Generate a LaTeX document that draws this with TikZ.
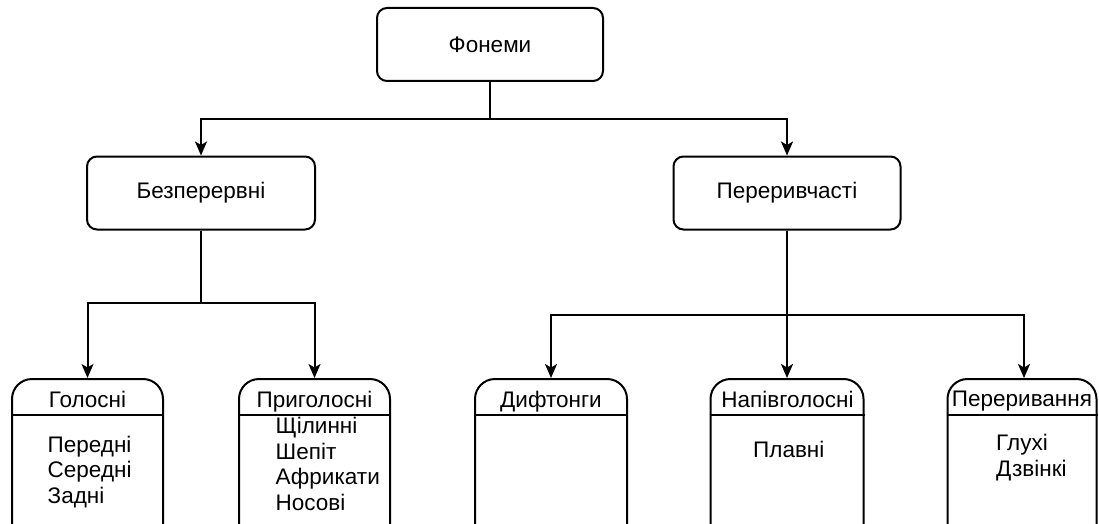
\documentclass[tikz,border=0pt]{standalone}
\usepackage{fontspec}
\setmainfont{Liberation Sans}
\usetikzlibrary{arrows.meta,calc}
\begin{document}
\begin{tikzpicture}[x=1pt,y=-1pt,
  every node/.style={font=\fontsize{22.5}{25.5}\selectfont, inner sep=0pt},
  topbox/.style={draw, line width=2pt, rounded corners=10pt, minimum height=73pt},
  lane/.style={draw, line width=2pt, rounded corners=20pt, minimum height=190pt, anchor=north},
  sep/.style={line width=2pt},
  link/.style={line width=2pt, -{Stealth[length=14pt,width=12pt,inset=3.5pt]}},
  body/.style={align=left, anchor=base west}
]
\useasboundingbox (0,0) rectangle (1099,524);
\clip (0,0) rectangle (1099,524);
\fill[white] (0,0) rectangle (1099,524);

% upper levels
\node[topbox, minimum width=226pt] (fon) at (490,44.5) {Фонеми};
\node[topbox, minimum width=228pt] (bez) at (201,193) {Безперервні};
\node[topbox, minimum width=227pt] (per) at (787,193) {Переривчасті};

% lower swimlanes
\node[lane, minimum width=151pt] (gol) at (87.5,378) {};
\node[lane, minimum width=151pt] (pry) at (314.5,378) {};
\node[lane, minimum width=152pt] (dyf) at (551,378) {};
\node[lane, minimum width=153pt] (nap) at (787,378) {};
\node[lane, minimum width=149pt] (prr) at (1022,378) {};

% header separators
\foreach \n in {gol,pry,dyf,nap,prr}
  \draw[sep] ($(\n.north west)+(0,37)$) -- ($(\n.north east)+(0,37)$);

% header titles
\node[anchor=base] (golt) at (87.5,407) {Голосні};
\node[anchor=base] (pryt) at (314.5,407) {Приголосні};
\node[anchor=base] (dyft) at (551,407) {Дифтонги};
\node[anchor=base] (napt) at (787.5,407.5) {Напівголосні};
\node[anchor=base] (prrt) at (1022,406) {Переривання};

% lane contents (anchored at the baseline of the last line)
\node[body] (golb) at (47.5,503) {Передні\\Середні\\Задні};
\node[body] (pryb) at (275.5,510) {Щілинні\\Шепіт\\Африкати\\Носові};
\node[body] (napb) at (753,457) {Плавні};
\node[body] (prrb) at (996,476) {Глухі\\Дзвінкі};

% connectors
\draw[link] (fon.south) -- ++(0,37) -| (bez.north);
\draw[link] (fon.south) -- ++(0,37) -| (per.north);
\draw[link] (bez.south) -- ++(0,72) -| (gol.north);
\draw[link] (bez.south) -- ++(0,72) -| (pry.north);
\draw[link] (per.south) -- ++(0,84) -| (dyf.north);
\draw[link] (per.south) -- (nap.north);
\draw[link] (per.south) -- ++(0,84) -| ($(prr.north)+(2,0)$);
\end{tikzpicture}
\end{document}
